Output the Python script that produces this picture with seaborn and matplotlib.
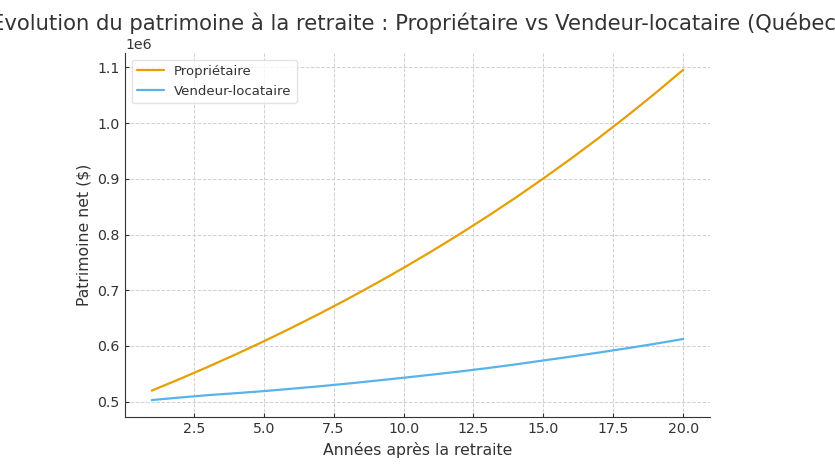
import numpy as np
import pandas as pd
import matplotlib
matplotlib.use("Agg")
import matplotlib.pyplot as plt
import seaborn as sns

# données
annees = list(range(1, 21))
proprietaire = [520000, 540800, 562400, 584900, 608300, 632700, 658000, 684300, 711700, 740100,
                769700, 800500, 832500, 865800, 900500, 936500, 974000, 1012900, 1053400, 1095600]
vendeur_locataire = [503000, 507500, 511800, 515300, 519000, 523300, 527700, 532500, 537700, 543000,
                     548500, 554200, 560300, 566900, 574000, 581000, 588300, 596000, 604000, 612500]
series = ["Propriétaire", "Vendeur-locataire"]
couleurs = ["#E69F00", "#56B4E9"]

df = pd.DataFrame({
    "Années après la retraite": annees * 2,
    "Patrimoine net ($)": proprietaire + vendeur_locataire,
    "Scénario": [series[0]] * len(annees) + [series[1]] * len(annees),
})

sns.set_style("ticks")
plt.rcParams["font.family"] = ["DejaVu Sans"]
gris = "#333333"
plt.rcParams.update({
    "text.color": gris, "axes.labelcolor": gris,
    "xtick.color": gris, "ytick.color": gris, "axes.edgecolor": gris,
})

fig = plt.figure(figsize=(8.35, 4.67), dpi=100)
ax = fig.add_axes([0.150, 0.108, 0.700, 0.778])

sns.lineplot(data=df, x="Années après la retraite", y="Patrimoine net ($)", hue="Scénario",
             palette=couleurs, linewidth=1.6, ax=ax)

ax.grid(True, linestyle="--", color="#d0d0d0", linewidth=0.7)
sns.despine(ax=ax)
ax.tick_params(labelsize=10.2, length=3, direction="in", pad=4)
ax.xaxis.label.set_size(11.3)
ax.yaxis.label.set_size(11.3)
ax.yaxis.get_offset_text().set_size(10.2)

leg = ax.legend(loc="upper left", fontsize=9.5, frameon=True)
leg.get_frame().set_edgecolor("#dddddd")

# le titre déborde de la figure, comme sur l'original
ax.set_title("Évolution du patrimoine à la retraite : Propriétaire vs Vendeur-locataire (Québec)",
             fontsize=15.25)

fig.savefig("out.png", dpi=100)
